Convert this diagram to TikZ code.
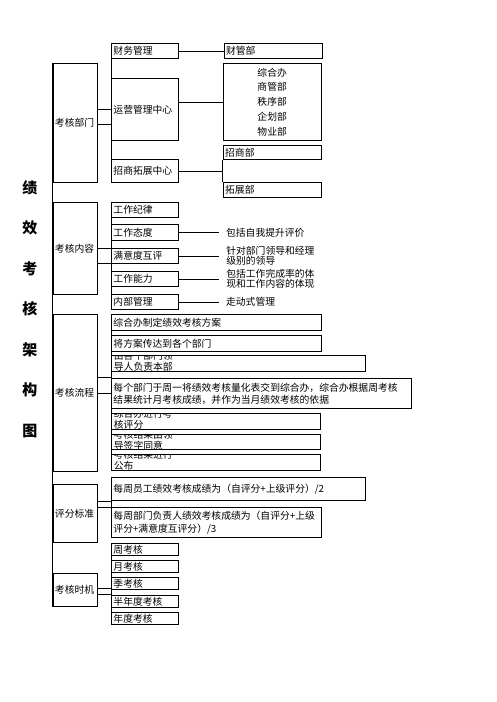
\documentclass[tikz,border=0pt]{standalone}
\usepackage{fontspec}
\setmainfont{Noto Sans CJK SC}
\usepackage{tikz}
\usetikzlibrary{positioning}
\tikzstyle{group} = [rectangle, 
anchor=north west, 
minimum width=44.6pt, 
text width=41pt, 
inner xsep=1.8pt, inner ysep=0pt, 
align=left, 
draw=black, line width=0.9pt]
\tikzstyle{item} = [rectangle, 
anchor=north west, 
minimum width=67pt, 
text width=63pt, 
inner xsep=2pt, inner ysep=0pt, 
align=left, 
draw=black, line width=0.9pt]
\tikzstyle{unit} = [rectangle, 
anchor=north west, 
minimum width=98pt, 
text width=94pt, 
inner xsep=2pt, inner ysep=0pt, 
align=left, 
draw=black, line width=0.9pt]
\tikzstyle{stepbox} = [rectangle, 
anchor=north west, 
inner xsep=2pt, inner ysep=0pt, 
align=left, 
draw=black, line width=0.9pt]
\tikzstyle{note} = [rectangle, anchor=west, inner xsep=7pt, inner ysep=0pt]
\tikzstyle{cuttext} = [anchor=north west, draw=none, fill=none, 
inner sep=0pt, xshift=2pt, minimum width=0pt, minimum height=0pt, 
text width=62pt, align=left, font=\fontsize{9.8}{11.5}\selectfont]
\tikzstyle{link} = [black, line width=0.9pt]
\tikzset{cliptext/.style n args={3}{path picture={
  \node (#1) [cuttext, #2] at (path picture bounding box.north west) {#3};}}}

\begin{document}
\begin{tikzpicture}[x=1pt, y=-1pt, every node/.style={font=\fontsize{9.8}{12}\selectfont}]
  \useasboundingbox (0,0) rectangle (496,702);

  \node (title) [font=\fontsize{15}{40.5}\selectfont\bfseries, align=center] at (30,309) {绩\\效\\考\\核\\架\\构\\图};

  % first column
  \node (bm) [group, minimum height=118.4pt] at (52.7,63.3) {考核部门};
  \node (nr) [group, minimum height=92.6pt] at (52.7,201.7) {考核内容};
  \node (lc) [group, minimum height=156.4pt] at (52.7,314.3) {考核流程};
  \node (bz) [group, minimum height=57.4pt] at (52.7,484.3) {评分标准};
  \node (sj) [group, minimum height=33.3pt] at (52.7,572.7) {考核时机};

  % departments
  \node (cw) [item, minimum height=15pt] at (111,43.3) {财务管理};
  \node (yy) [item, minimum height=61.7pt] at (111,78.3) {运营管理中心};
  \node (zs) [item, minimum height=22.4pt] at (111,159.3) {招商拓展中心};
  \node (cwb) [unit, minimum height=15pt, right=44.7pt of cw] {财管部};
  \node (zhb) [unit, minimum height=76.7pt, align=center, font=\fontsize{9.8}{14.9}\selectfont] at (222.7,63.3) {综合办\\商管部\\秩序部\\企划部\\物业部};
  \node (zsb) [unit, minimum height=14.3pt] at (222.7,145) {招商部};
  \node (tzb) [unit, minimum height=15pt] at (222.7,181.7) {拓展部};

  % content
  \node (jl) [item, minimum height=15pt] at (111,201.7) {工作纪律};
  \node (td) [item, minimum height=15.7pt] at (111,224.3) {工作态度};
  \node (hp) [item, minimum height=15.6pt] at (111,247.7) {满意度互评};
  \node (nl) [item, minimum height=15pt] at (111,271) {工作能力};
  \node (gl) [item, minimum height=15pt] at (111,294.3) {内部管理};
  \node (n1) [note, right=40pt of td] {包括自我提升评价};
  \node (n2) [note, fill=white, minimum width=100pt, minimum height=18pt, right=45pt of hp,
    cliptext={n2t}{yshift=1pt, text width=100pt, font=\fontsize{9.8}{10}\selectfont}{针对部门领导和经理\\级别的领导}] {};
  \node (n3) [note, fill=white, minimum width=100pt, minimum height=18pt, right=45pt of nl,
    cliptext={n3t}{yshift=1pt, text width=100pt, font=\fontsize{9.8}{10}\selectfont}{包括工作完成率的体\\现和工作内容的体现}] {};
  \node (n4) [note, right=40pt of gl] {走动式管理};

  % flow
  \node (s1) [stepbox, minimum height=15.7pt, text width=205.7pt] at (111,314.3) {综合办制定绩效考核方案};
  \node (s2) [stepbox, minimum height=15.7pt, text width=205.7pt] at (111,335) {将方案传达到各个部门};
  \node (s3) [stepbox, minimum height=16pt, text width=250pt, cliptext={s3t}{yshift=5pt}{由各个部门领\\导人负责本部}] at (111,355) {};
  \node (s4) [stepbox, minimum height=30.6pt, text width=295.7pt] at (111,377.7) {每个部门于周一将绩效考核量化表交到综合办，综合办根据周考核\\结果统计月考核成绩，并作为当月绩效考核的依据};
  \node (s5) [stepbox, minimum height=15.7pt, text width=205pt, cliptext={s5t}{yshift=5pt}{综合办进行考\\核评分}] at (111,413.3) {};
  \node (s6) [stepbox, minimum height=15pt, text width=205pt, cliptext={s6t}{yshift=5pt}{考核结果由领\\导签字同意}] at (111,434.3) {};
  \node (s7) [stepbox, minimum height=15.7pt, text width=205pt, cliptext={s7t}{yshift=5pt}{考核结果进行\\公布}] at (111,454.3) {};

  % standards
  \node (b1) [stepbox, minimum height=22.7pt, text width=250pt] at (111,477.3) {每周员工绩效考核成绩为（自评分+上级评分）/2};
  \node (b2) [stepbox, minimum height=30pt, text width=205.7pt, font=\fontsize{9.8}{12.3}\selectfont] at (111,507.3) {每周部门负责人绩效考核成绩为（自评分+上级\\评分+满意度互评分）/3};

  % timing
  \node (t1) [item, minimum height=12.3pt] at (111,542.7) {周考核};
  \node (t2) [item, minimum height=11.7pt] at (111,560) {月考核};
  \node (t3) [item, minimum height=12pt] at (111,577.3) {季考核};
  \node (t4) [item, minimum height=11.7pt] at (111,595) {半年度考核};
  \node (t5) [item, minimum height=11.7pt] at (111,612.3) {年度考核};

  % spines
  \draw [link] (bm.north west) -- (sj.south west);
  \draw [link] (cw.north west) -- (zs.south west);
  \draw [link] (jl.north west) -- (gl.south west);
  \draw [link] (s1.north west) -- (s7.south west);
  \draw [link] (b1.north west) -- (b2.south west);
  \draw [link] (t1.north west) -- (t5.south west);

  % first column to spines
  \draw [link] ([yshift=13.2pt]bm.east) -- ([yshift=13.2pt]bm.east -| cw.west);
  \draw [link] ([yshift=-1.8pt]bm.east) -- ([yshift=-1.8pt]bm.east -| cw.west);
  \draw [link] (nr.east) -- (nr.east -| jl.west);
  \draw [link] ([yshift=-14.7pt]nr.east) -- ([yshift=-14.7pt]nr.east -| jl.west);
  \draw [link] ([yshift=15.8pt]lc.east) -- ([yshift=15.8pt]lc.east -| s1.west);
  \draw [link] ([yshift=-0.8pt]lc.east) -- ([yshift=-0.8pt]lc.east -| s1.west);
  \draw [link] ([yshift=12.3pt]bz.east) -- ([yshift=12.3pt]bz.east -| b1.west);
  \draw [link] ([yshift=6.3pt]bz.east) -- ([yshift=6.3pt]bz.east -| b1.west);
  \draw [link] ([yshift=1pt]sj.east) -- ([yshift=1pt]sj.east -| t1.west);
  \draw [link] ([yshift=-4.7pt]sj.east) -- ([yshift=-4.7pt]sj.east -| t1.west);

  % departments to units
  \draw [link] (cw.east) -- (cwb.west);
  \draw [link] (yy.east |- zhb.west) -- (zhb.west);
  \draw [link] (zs.east) -- (zs.east -| zsb.west);
  \draw [link] (zsb.south west) -- (tzb.north west);

  % content to notes
  \draw [link] (td.east) -- (n1.west);
  \draw [link] (hp.east) -- ([xshift=-5pt]n2.west);
  \draw [link] (nl.east) -- ([xshift=-5pt]n3.west);
  \draw [link] (gl.east) -- (n4.west);

\end{tikzpicture}
\end{document}
